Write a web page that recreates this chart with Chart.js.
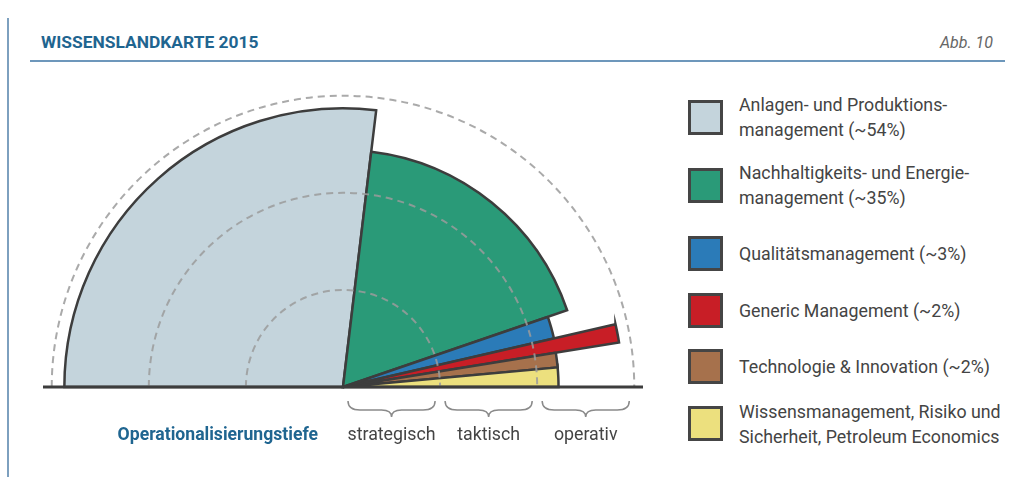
<!DOCTYPE html>
<html lang="de">
<head>
<meta charset="utf-8">
<title>Wissenslandkarte 2015</title>
<script src="https://cdn.jsdelivr.net/npm/chart.js@4.4.1/dist/chart.umd.min.js"></script>
<style>
  html, body { margin: 0; padding: 0; }
  body {
    width: 1021px; height: 477px; overflow: hidden; position: relative;
    background: #fff; color: #444;
    font-family: Roboto, "Liberation Sans", sans-serif;
  }
  #frame { position: absolute; left: 7px; top: 18px; width: 2px; height: 470px; background: #7da0bf; }
  #title { position: absolute; left: 41px; top: 32px; font-size: 17.4px; font-weight: bold; color: #1f6590; }
  #abb { position: absolute; right: 28px; top: 33px; font-size: 16px; font-style: italic; color: #666; }
  #rule { position: absolute; left: 30px; top: 60px; width: 975px; height: 2px; background: #6d97bb; }
  #chart { position: absolute; left: 43px; top: 87px; }
  .swatch { position: absolute; left: 688px; width: 29px; height: 29px; border: 3px solid #454545; }
  .ltext { position: absolute; left: 739px; font-size: 17.8px; line-height: 25px; color: #444; white-space: nowrap; }
</style>
</head>
<body>
<div id="frame"></div>
<div id="title">WISSENSLANDKARTE 2015</div>
<div id="abb">Abb. 10</div>
<div id="rule"></div>
<canvas id="chart" width="600" height="600"></canvas>
<div id="legend"></div>

<script>
'use strict';

// Wissensgebiete (legend text, one entry per line)
const categories = [
  ['Anlagen- und Produktions-', 'management (~54%)'],
  ['Nachhaltigkeits- und Energie-', 'management (~35%)'],
  ['Qualitätsmanagement (~3%)'],
  ['Generic Management (~2%)'],
  ['Technologie & Innovation (~2%)'],
  ['Wissensmanagement, Risiko und', 'Sicherheit, Petroleum Economics'],
];
// share of the half circle in percent (angle of each slice)
const shares = [53.8, 35.7, 3.3, 2.1, 2.2, 2.9];
// operationalisation depth (radius), 0..3
const depth = [2.87, 2.44, 2.23, 2.88, 2.22, 2.22];
const colors = ['#c4d4dc', '#2a9a78', '#2b7bb8', '#c81e26', '#a6714c', '#ece07e'];

const depthTicks = [1, 2, 3];
const depthLabels = ['strategisch', 'taktisch', 'operativ'];
const axisTitle = 'Operationalisierungstiefe';

// legend (html), vertical centres of the entries
const legendCenters = [117, 185, 253.5, 310.5, 366.5, 423.5];
const legend = document.getElementById('legend');
categories.forEach((lines, i) => {
  const sw = document.createElement('div');
  sw.className = 'swatch';
  sw.style.top = (legendCenters[i] - 17.5) + 'px';
  sw.style.background = colors[i];
  legend.appendChild(sw);
  const t = document.createElement('div');
  t.className = 'ltext';
  t.style.top = (legendCenters[i] - lines.length * 12.5) + 'px';
  t.innerHTML = lines.map(l => l.replace('&', '&amp;')).join('<br>');
  legend.appendChild(t);
});

// dashed rings, base line and braces below the half circle
const decor = {
  id: 'decor',
  afterDatasetsDraw(chart) {
    const r = chart.scales.r;
    const ctx = chart.ctx;
    const cx = r.xCenter, cy = r.yCenter;
    const outer = r.getDistanceFromCenterForValue(depthTicks[depthTicks.length - 1]);
    ctx.save();

    ctx.setLineDash([7, 5]);
    ctx.strokeStyle = 'rgba(155,155,155,0.85)';
    ctx.lineWidth = 2;
    depthTicks.forEach(v => {
      ctx.beginPath();
      ctx.arc(cx, cy, r.getDistanceFromCenterForValue(v), Math.PI, 2 * Math.PI);
      ctx.stroke();
    });
    ctx.setLineDash([]);

    ctx.strokeStyle = '#3d3d3d';
    ctx.lineWidth = 3;
    ctx.beginPath();
    ctx.moveTo(cx - outer - 11, cy);
    ctx.lineTo(cx + outer + 11, cy);
    ctx.stroke();

    const y0 = cy + 14, y1 = cy + 23, y2 = cy + 30;
    ctx.strokeStyle = '#8a8a8a';
    ctx.lineWidth = 1.5;
    ctx.font = '17.8px Roboto, "Liberation Sans", sans-serif';
    ctx.fillStyle = '#444';
    ctx.textAlign = 'center';
    ctx.textBaseline = 'middle';
    depthTicks.forEach((v, i) => {
      const x1 = cx + r.getDistanceFromCenterForValue(v - 1) + 5;
      const x2 = cx + r.getDistanceFromCenterForValue(v) - 5;
      const xm = (x1 + x2) / 2;
      ctx.beginPath();
      ctx.moveTo(x1, y0);
      ctx.quadraticCurveTo(x1, y1, x1 + 12, y1);
      ctx.lineTo(xm - 10, y1);
      ctx.quadraticCurveTo(xm, y1, xm, y2);
      ctx.quadraticCurveTo(xm, y1, xm + 10, y1);
      ctx.lineTo(x2 - 12, y1);
      ctx.quadraticCurveTo(x2, y1, x2, y0);
      ctx.stroke();
      ctx.fillText(depthLabels[i], xm, cy + 49);
    });

    ctx.font = 'bold 17.6px Roboto, "Liberation Sans", sans-serif';
    ctx.fillStyle = '#1f6590';
    ctx.textAlign = 'right';
    ctx.fillText(axisTitle, cx - 25, cy + 49);
    ctx.restore();
  }
};

new Chart(document.getElementById('chart'), {
  type: 'polarArea',
  data: {
    labels: categories.map(c => c.join(' ')),
    datasets: [{
      data: depth,
      angle: shares.map(s => s * 1.8),
      backgroundColor: colors,
      borderColor: '#3d3d3d',
      borderWidth: 2.5,
      borderJoinStyle: 'miter',
    }],
  },
  options: {
    responsive: false,
    animation: false,
    plugins: { legend: { display: false }, tooltip: { enabled: false } },
    scales: {
      r: {
        min: 0,
        max: 3.09,
        startAngle: -90,
        ticks: { display: false },
        grid: { display: false },
        angleLines: { display: false },
        pointLabels: { display: false },
      },
    },
  },
  plugins: [decor],
});
</script>
</body>
</html>
